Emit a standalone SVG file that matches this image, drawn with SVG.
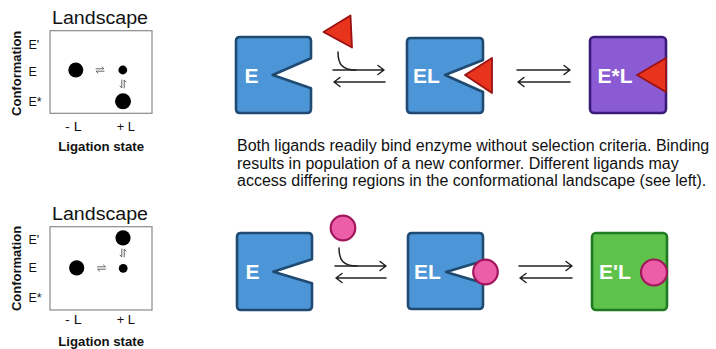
<svg xmlns="http://www.w3.org/2000/svg" width="716" height="349" viewBox="0 0 716 349">
<defs>
<style>
.t{font-family:"Liberation Sans",Arial,Helvetica,sans-serif;fill:#111}
.b{font-weight:bold}
.lbl{font-family:"Liberation Sans",Arial,Helvetica,sans-serif;font-weight:bold;font-size:21px;fill:#fff}
.frame{fill:#fff;stroke:#8a8a8a;stroke-width:1.2}
.dot{fill:#000}
.eq{fill:none;stroke:#555;stroke-width:0.9;stroke-linecap:round}
.blue{fill:#4c95d6;stroke:#1f4a72;stroke-width:2.6;stroke-linejoin:round}
.purple{fill:#8b5bd4;stroke:#3a1c78;stroke-width:2.6;stroke-linejoin:round}
.green{fill:#5fc24b;stroke:#1f7a22;stroke-width:2.6;stroke-linejoin:round}
.tri{fill:#e8331d;stroke:#9a1212;stroke-width:1.8;stroke-linejoin:round}
.pink{fill:#ec5ea8;stroke:#a0175c;stroke-width:2.2}
.arr{fill:none;stroke:#222;stroke-width:1.5;stroke-linecap:round;stroke-linejoin:round}
</style>
</defs>
<rect width="716" height="349" fill="#fff"/>

<!-- Top landscape -->
<g id="landscape-top">
<text class="t" x="52" y="24.3" font-size="17.5" textLength="96" lengthAdjust="spacingAndGlyphs">Landscape</text>
<rect class="frame" x="50" y="30.7" width="102" height="82.6"/>
<text class="t b" font-size="13" text-anchor="middle" transform="translate(21,73.3) rotate(-90)">Conformation</text>
<text class="t" x="28.5" y="48.5" font-size="12.5">E'</text>
<text class="t" x="28.5" y="76" font-size="12.5">E</text>
<text class="t" x="28.5" y="105.5" font-size="12.5">E*</text>
<circle class="dot" cx="75.8" cy="70" r="7.5"/>
<circle class="dot" cx="122.8" cy="70" r="4.4"/>
<circle class="dot" cx="123" cy="101.3" r="8"/>
<path class="eq" d="M96,68.8 H104 L102,67 M104,71.2 H96 L98,73"/>
<path class="eq" d="M121.8,80 V88 L120,86 M124.2,88 V80 L126,82"/>
<text class="t" x="65" y="130.5" font-size="12.5" textLength="16.7" lengthAdjust="spacingAndGlyphs">- L</text>
<text class="t" x="116.7" y="130.5" font-size="12.5" textLength="18.3" lengthAdjust="spacingAndGlyphs">+ L</text>
<text class="t b" x="58.3" y="151" font-size="12.5" textLength="85.7" lengthAdjust="spacingAndGlyphs">Ligation state</text>
</g>

<!-- Bottom landscape -->
<g id="landscape-bottom">
<text class="t" x="52" y="220.3" font-size="17.5" textLength="96" lengthAdjust="spacingAndGlyphs">Landscape</text>
<rect class="frame" x="50" y="226.7" width="102" height="83.3"/>
<text class="t b" font-size="13" text-anchor="middle" transform="translate(21,268.5) rotate(-90)">Conformation</text>
<text class="t" x="28.5" y="243.5" font-size="12.5">E'</text>
<text class="t" x="28.5" y="272" font-size="12.5">E</text>
<text class="t" x="28.5" y="302" font-size="12.5">E*</text>
<circle class="dot" cx="123" cy="237.8" r="7.6"/>
<circle class="dot" cx="123.2" cy="268.3" r="4.4"/>
<circle class="dot" cx="76.7" cy="267.8" r="7.6"/>
<path class="eq" d="M97.5,266.8 H105.5 L103.5,265 M105.5,269.2 H97.5 L99.5,271"/>
<path class="eq" d="M121.8,249 V257 L120,255 M124.2,257 V249 L126,251"/>
<text class="t" x="65" y="323.5" font-size="12.5" textLength="16.7" lengthAdjust="spacingAndGlyphs">- L</text>
<text class="t" x="116.7" y="323.5" font-size="12.5" textLength="18.3" lengthAdjust="spacingAndGlyphs">+ L</text>
<text class="t b" x="58.3" y="346" font-size="12.5" textLength="85.7" lengthAdjust="spacingAndGlyphs">Ligation state</text>
</g>

<!-- Top row nodes -->
<g id="E-top">
<path class="blue" d="M240,37 H307 Q311,37 311,41 V58.3 L272.7,75 L311,88.3 V109 Q311,113 307,113 H240 Q236,113 236,109 V41 Q236,37 240,37 Z"/>
<text class="lbl" x="244.5" y="82.5">E</text>
</g>
<g id="ligand-triangle">
<path class="tri" d="M323.5,32 L350.5,15.5 L352,47.5 Z"/>
</g>
<g id="EL-top">
<path class="blue" d="M411,38 H479 Q483,38 483,42 V60 L445,75 L483,92 V109 Q483,113 479,113 H411 Q407,113 407,109 V42 Q407,38 411,38 Z"/>
<path class="tri" d="M465,75 L492,58 L492,93 Z"/>
<text class="lbl" x="413" y="82.5">EL</text>
</g>
<g id="EstarL-top">
<rect class="purple" x="590" y="37" width="76" height="76" rx="4"/>
<path class="tri" d="M637,75 L666,58 L666,92 Z"/>
<text class="lbl" x="597.5" y="82.5">E*L</text>
</g>

<text class="t" font-size="16">
<tspan x="237" y="151">Both ligands readily bind enzyme without selection criteria. Binding</tspan>
<tspan x="237" y="168.5">results in population of a new conformer. Different ligands may</tspan>
<tspan x="237" y="186">access differing regions in the conformational landscape (see left).</tspan>
</text>

<!-- Bottom row nodes -->
<g id="E-bottom">
<path class="blue" d="M241,233 H308 Q312,233 312,237 V259.3 L273.3,271.7 L312,283.3 V306 Q312,310 308,310 H241 Q237,310 237,306 V237 Q237,233 241,233 Z"/>
<text class="lbl" x="245.5" y="278.5">E</text>
</g>
<g id="ligand-circle">
<circle class="pink" cx="343" cy="228" r="12.3"/>
</g>
<g id="EL-bottom">
<path class="blue" d="M412,233 H479 Q483,233 483,237 V261 L446,272 L483,283 V305 Q483,309 479,309 H412 Q408,309 408,305 V237 Q408,233 412,233 Z"/>
<circle class="pink" cx="485.5" cy="272" r="12.3"/>
<text class="lbl" x="414" y="279">EL</text>
</g>
<g id="EprimeL-bottom">
<rect class="green" x="592" y="233" width="75" height="77" rx="4"/>
<circle class="pink" cx="654" cy="272.5" r="13"/>
<text class="lbl" x="599" y="279">E'L</text>
</g>

<!-- Connectors -->
<g id="connectors">
<path class="arr" d="M338,52 C338,64 342,70 356,70"/>
<path class="arr" d="M333,70 H384 M378,65.5 L384,70 L378,74.5"/>
<path class="arr" d="M385,82 H334 M340,77.5 L334,82 L340,86.5"/>
<path class="arr" d="M517,70 H570 M564,65.5 L570,70 L564,74.5"/>
<path class="arr" d="M570,82 H518 M524,77.5 L518,82 L524,86.5"/>
<path class="arr" d="M339,248 C339,260 343,266 357,266"/>
<path class="arr" d="M335,266 H386 M380,261.5 L386,266 L380,270.5"/>
<path class="arr" d="M386,278 H336 M342,273.5 L336,278 L342,282.5"/>
<path class="arr" d="M519,266 H572 M566,261.5 L572,266 L566,270.5"/>
<path class="arr" d="M572,278 H520 M526,273.5 L520,278 L526,282.5"/>
</g>
</svg>
